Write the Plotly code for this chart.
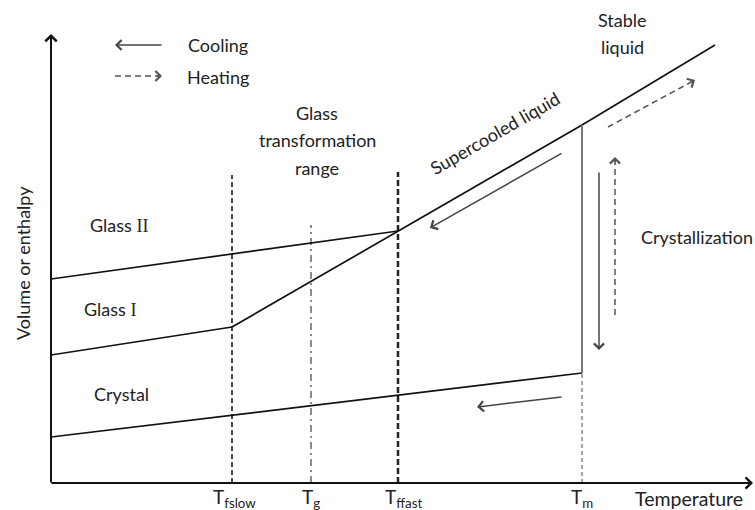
import math
import plotly.graph_objects as go

# ---------------- data (schematic units: temperature T, volume/enthalpy V) ----------------
T_NAMES = ["fslow", "g", "ffast", "m"]
T_VALUES = [18.1, 26.0, 34.7, 53.1]
GUIDE_TOPS = [30.8, 25.8, 31.1, 11.0]

GLASS2_T = [0.0, 34.7]
GLASS2_V = [20.4, 25.2]
GLASS1_T = [0.0, 18.1]
GLASS1_V = [12.8, 15.6]
LIQUID_T = [18.1, 34.7, 53.1, 66.4]
LIQUID_V = [15.6, 25.2, 35.8, 43.8]
CRYSTAL_T = [0.0, 53.1]
CRYSTAL_V = [4.6, 11.0]
MELT_V = [11.0, 35.8]

AXIS_T_MAX = 70.2
AXIS_V_MAX = 44.9

# arrows: (tail T, tail V, head T, head V)
COOL_ARROWS = [
    (11.1, 43.8, 6.4, 43.8),
    (51.1, 33.0, 37.9, 25.5),
    (54.8, 31.1, 54.8, 13.3),
    (51.1, 8.6, 42.6, 7.6),
]
HEAT_ARROWS = [
    (6.4, 40.7, 11.1, 40.7),
    (55.7, 35.6, 64.4, 40.3),
    (56.4, 16.8, 56.4, 32.6),
]

# text labels: (text, T, V, anchor, angle)
LABELS = [
    ("Cooling", 13.5, 43.8, "left", 0),
    ("Heating", 13.4, 40.6, "left", 0),
    ("Stable", 57.1, 46.3, "center", 0),
    ("liquid", 57.1, 43.6, "center", 0),
    ("Glass", 26.6, 37.0, "center", 0),
    ("transformation", 26.6, 34.3, "center", 0),
    ("range", 26.6, 31.5, "center", 0),
    ("Supercooled liquid", 44.4, 35.0, "center", -30),
    ("Crystallization", 64.6, 24.6, "center", 0),
    ('Glass <span style="font-family:Liberation Serif">II</span>', 3.7, 25.8, "left", 0),
    ('Glass <span style="font-family:Liberation Serif">I</span>', 3.1, 17.4, "left", 0),
    ("Crystal", 4.1, 8.9, "left", 0),
]
X_TITLE = "Temperature"
Y_TITLE = "Volume or enthalpy"

FONT = "Lato"
TXT = "#222222"

fig = go.Figure()

def line(xs, ys, color="#111111", width=1.7, dash="solid"):
    fig.add_trace(go.Scatter(x=xs, y=ys, mode="lines", hoverinfo="skip", showlegend=False,
                             line=dict(color=color, width=width, dash=dash)))

# guide lines at characteristic temperatures
guide_styles = [("#333333", 1.8, "5px,3px"), ("#666666", 1.5, "7px,4px,2px,4px"),
                ("#222222", 2.5, "6px,3px"), ("#888888", 1.5, "4px,3px")]
for t, top, (c, w, d) in zip(T_VALUES, GUIDE_TOPS, guide_styles):
    line([t, t], [0, top], c, w, d)

# main curves
line(GLASS2_T, GLASS2_V)
line(GLASS1_T, GLASS1_V)
line(LIQUID_T, LIQUID_V)
line(CRYSTAL_T, CRYSTAL_V)
line([T_VALUES[3], T_VALUES[3]], MELT_V, "#777777", 2.0)

annotations = []

def arrow(t0, v0, t1, v1, color, width, size):
    annotations.append(dict(x=t1, y=v1, ax=t0, ay=v0, xref="x", yref="y", axref="x", ayref="y",
                            text="", showarrow=True, arrowhead=4, arrowsize=size,
                            arrowwidth=width, arrowcolor=color, standoff=0,
                            font=dict(size=1), borderpad=0))

# axes with arrowheads
arrow(0, 0, AXIS_T_MAX, 0, "#111111", 2, 1.1)
arrow(0, 0, 0, AXIS_V_MAX, "#111111", 2, 1.1)

# cooling arrows (solid)
for (t0, v0, t1, v1) in COOL_ARROWS:
    arrow(t0, v0, t1, v1, "#444444", 1.5, 1.3)

# heating arrows (dashed shaft + head)
for (t0, v0, t1, v1) in HEAT_ARROWS:
    line([t0, t1], [v0, v1], "#555555", 1.5, "6px,4px")
    L = math.hypot(t1 - t0, v1 - v0)
    ut, uv = (t1 - t0) / L, (v1 - v0) / L
    arrow(t1 - ut * 0.6, v1 - uv * 0.6, t1, v1, "#555555", 1.5, 1.3)

for (txt, t, v, anc, ang) in LABELS:
    annotations.append(dict(x=t, y=v, xref="x", yref="y", text=txt, showarrow=False,
                            xanchor=anc, yanchor="middle", textangle=ang,
                            font=dict(family=FONT, size=18, color=TXT)))

# temperature tick labels
label_shift = [0.2, 0.0, 0.5, 0.0]
for name, t, s in zip(T_NAMES, T_VALUES, label_shift):
    annotations.append(dict(x=t + s, y=-1.5, xref="x", yref="y",
                            text="T<sub>%s</sub>" % name, showarrow=False,
                            xanchor="center", yanchor="middle",
                            font=dict(family=FONT, size=19, color=TXT)))

annotations.append(dict(x=63.8, y=-1.5, xref="x", yref="y", text=X_TITLE, showarrow=False,
                        xanchor="center", yanchor="middle",
                        font=dict(family=FONT, size=19.5, color=TXT)))
annotations.append(dict(x=-2.8, y=22.0, xref="x", yref="y", text=Y_TITLE, showarrow=False,
                        xanchor="center", yanchor="middle", textangle=-90,
                        font=dict(family=FONT, size=18, color=TXT)))

fig.update_layout(
    width=755, height=510,
    margin=dict(l=0, r=0, t=0, b=0),
    paper_bgcolor="white", plot_bgcolor="white",
    xaxis=dict(range=[-5.1, 70.4], visible=False, fixedrange=True),
    yaxis=dict(range=[-2.7, 48.3], visible=False, fixedrange=True),
    annotations=annotations,
    showlegend=False,
)

fig.write_html("out.html")
